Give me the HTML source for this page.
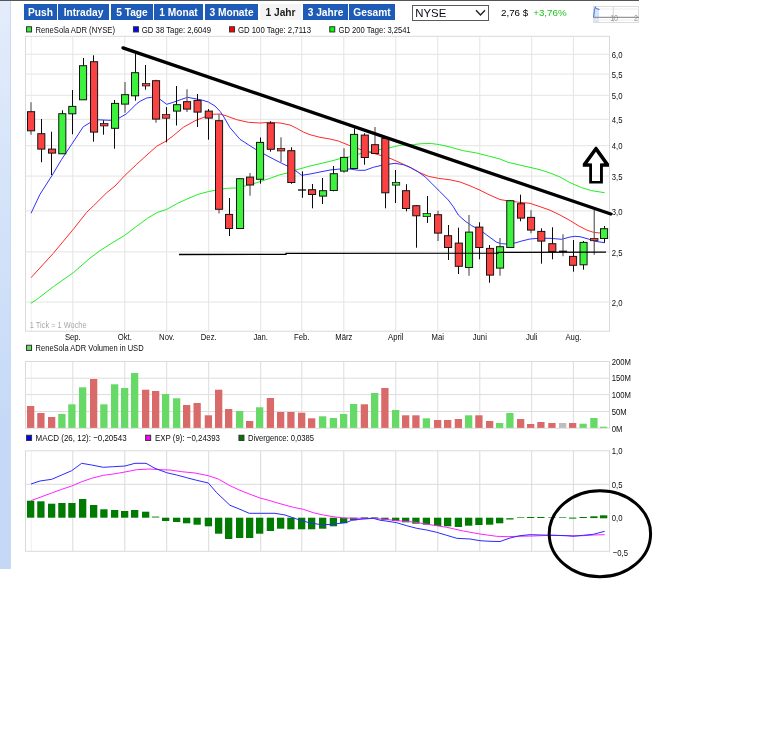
<!DOCTYPE html>
<html lang="de">
<head>
<meta charset="utf-8">
<title>ReneSola ADR (NYSE) – Chart 1 Jahr</title>
<style>
html,body{margin:0;padding:0;background:#fff;}
body{width:768px;height:734px;position:relative;overflow:hidden;font-family:"Liberation Sans",sans-serif;}
.topline{position:absolute;left:0;top:0;width:639px;height:1px;background:#565656;}
.strip{position:absolute;left:0;top:1px;width:10px;height:568px;border-right:1px solid #c6daf7;background:linear-gradient(#e4ecfb 0%,#d8e5f9 26%,#cedff8 52%,#c5d9f6 75%,#c4d8f6 100%);}
.tabs{position:absolute;left:0;top:4px;height:16px;width:400px;}
.tab{position:absolute;top:0;height:16px;line-height:17px;background:#1d5bb6;color:#fff;font-weight:bold;font-size:10.2px;text-align:center;text-decoration:none;white-space:nowrap;}
.tab.active{background:#f4f4f4;color:#1c1c1c;}
.select{position:absolute;left:412px;top:5px;width:75px;height:14px;border:1px solid #5a5a5a;background:#fff;font-size:11.4px;line-height:14px;color:#0a0a14;}
.select span{position:absolute;left:2.3px;top:0;}
.select svg{position:absolute;right:2px;top:3px;}
.quote{position:absolute;left:501px;top:6.9px;font-size:9.8px;line-height:12px;color:#000;white-space:nowrap;}
.quote .chg{color:#1cc41c;margin-left:2.2px;}
.thumb{position:absolute;left:593px;top:6px;}
.chart{position:absolute;left:0;top:0;}
</style>
</head>
<body>
<div class="topline"></div>
<div class="strip"></div>
<nav class="tabs">
<a class="tab" style="left:24px;width:33px">Push</a>
<a class="tab" style="left:58px;width:51px">Intraday</a>
<a class="tab" style="left:111px;width:42px">5 Tage</a>
<a class="tab" style="left:154px;width:49px">1 Monat</a>
<a class="tab" style="left:205px;width:53px">3 Monate</a>
<a class="tab active" style="left:260px;width:41px">1 Jahr</a>
<a class="tab" style="left:303px;width:45px">3 Jahre</a>
<a class="tab" style="left:349px;width:46px">Gesamt</a>
</nav>
<div class="select"><span>NYSE</span><svg width="11" height="8" viewBox="0 0 11 8"><path d="M1 1.2 L5.5 6 L10 1.2" fill="none" stroke="#222" stroke-width="1.4"/></svg></div>
<div class="quote"><span class="last">2,76 $</span> <span class="chg">+3,76%</span></div>
<svg class="thumb" width="46" height="17" viewBox="0 0 46 17">
<rect x="0.5" y="0.5" width="45" height="16" fill="#fff" stroke="#dcdcdc"/>
<rect x="0.5" y="2" width="5.5" height="14" fill="#d5e3fa"/>
<line x1="0" y1="3" x2="46" y2="3" stroke="#ececec"/>
<line x1="0" y1="14" x2="46" y2="14" stroke="#ececec"/>
<line x1="20.3" y1="0" x2="20.3" y2="17" stroke="#d6d6d6"/>
<polyline points="0.6,11 1.4,4.5 2.3,0.8 3.2,2.6 6.5,3.5" fill="none" stroke="#2f62c6" stroke-width="0.9"/>
<text transform="translate(17.2 14.9) scale(0.81 1)" font-family="'Liberation Sans', sans-serif" font-size="8.7" fill="#9c9c9c">10</text>
<text transform="translate(41 14.9) scale(0.81 1)" font-family="'Liberation Sans', sans-serif" font-size="8.7" fill="#9c9c9c">2</text>
<line x1="0" y1="11.3" x2="46" y2="11.3" stroke="#7e7e7e"/>
</svg>
<svg class="chart" width="768" height="734" viewBox="0 0 768 734">
<g id="price-panel">
<g class="grid" fill="none" stroke="#e4e4e4" stroke-width="1">
<line x1="31.3" y1="36.3" x2="31.3" y2="331.2" stroke="#efefef"/>
<line x1="72.8" y1="36.3" x2="72.8" y2="331.2"/>
<line x1="124.8" y1="36.3" x2="124.8" y2="331.2"/>
<line x1="166.7" y1="36.3" x2="166.7" y2="331.2"/>
<line x1="208.7" y1="36.3" x2="208.7" y2="331.2"/>
<line x1="260.7" y1="36.3" x2="260.7" y2="331.2"/>
<line x1="301.8" y1="36.3" x2="301.8" y2="331.2"/>
<line x1="343.8" y1="36.3" x2="343.8" y2="331.2"/>
<line x1="395.8" y1="36.3" x2="395.8" y2="331.2"/>
<line x1="437.8" y1="36.3" x2="437.8" y2="331.2"/>
<line x1="479.8" y1="36.3" x2="479.8" y2="331.2"/>
<line x1="531.7" y1="36.3" x2="531.7" y2="331.2"/>
<line x1="573.4" y1="36.3" x2="573.4" y2="331.2"/>
<line x1="25.5" y1="54.3" x2="609.5" y2="54.3"/>
<line x1="25.5" y1="74.1" x2="609.5" y2="74.1"/>
<line x1="25.5" y1="95.3" x2="609.5" y2="95.3"/>
<line x1="25.5" y1="119.3" x2="609.5" y2="119.3"/>
<line x1="25.5" y1="145.7" x2="609.5" y2="145.7"/>
<line x1="25.5" y1="176.1" x2="609.5" y2="176.1"/>
<line x1="25.5" y1="210.9" x2="609.5" y2="210.9"/>
<line x1="25.5" y1="251.9" x2="609.5" y2="251.9"/>
<line x1="25.5" y1="302" x2="609.5" y2="302"/>
</g>
<rect x="25.5" y="36.3" width="584" height="294.9" fill="none" stroke="#dadada" stroke-width="1"/>
<g class="ma" fill="none" stroke-width="1" stroke-linejoin="round">
<polyline stroke="#22ee22" points="30.7,303.3 36,300 53.3,286.7 73.3,272.7 90,258.1 99.4,251.1 110.3,244.1 124.4,235.5 136.9,226.1 147.8,218 157.2,212.5 166.6,209.4 177.5,203.4 186.9,199.1 197.8,194.4 208.3,191.6 215,190.3 226.7,188.3 235.8,188 245,186 256.7,182.7 268,179 280,174.7 287.5,173 295.8,170 310,166 320,163.7 330,161.3 340,158.7 350,156.7 360,153.7 370,151.7 380,149.5 390,147.7 400,145.3 413.3,144.6 421.3,143.7 431.3,143.5 439.4,144.6 450,147 463.3,150.7 476.7,153 488.3,156 500,159 508,162.3 524,166 540,169.7 550,173 560,177 570,182.7 581.7,187.7 591.7,190.7 604.7,192.7"/>
<polyline stroke="#ff2a2a" points="31,277.7 53.3,253.3 73.3,229.3 86.7,212.3 93.3,206 106.7,192.7 115,186 125,175.3 136.7,164.3 148,154 156.7,146.3 166.7,140.7 173.3,135.7 183.3,127.3 195,120.8 205,116.8 213.3,114.3 220,114 226.7,116 236.7,119.7 248.3,122.3 260,123 270,122.3 280,123 290,125 296.7,128.3 303.3,132 310,134.7 320,137.3 330,139 338.3,141 345,143.7 350,145.7 360,149.3 370,152.3 380,155.2 390,158.3 400,162.7 410,167.3 420,172.7 428.3,176.3 438.3,178.3 450,179.8 460,182 470,185.8 480,190.2 490,195.2 500,199.5 508.3,201 516.7,202 530,203.3 540,206.7 550,210.2 560,215 570,220.5 578.3,225.7 586.7,230 593.3,232.3 600,233 604.5,233.3"/>
<polyline stroke="#3030ff" points="31,213.3 40,194.3 51.7,176 61.7,159.3 71.7,144.3 83.3,126.7 90,122.7 98.3,119.8 110,120.3 118.3,118.5 126.7,113.7 136.7,103.7 140,101.3 146.7,98 151.7,97.3 160,99.3 166.7,104.3 173.3,102.3 181.7,99.3 187.5,97.3 195,98.7 201.7,100 208.3,102 215,106 220,111.3 223.3,116 230,127.7 240,139.3 248.3,144.7 256.7,150 264,154 273.3,159 281.7,163.3 287.5,166 295.8,170.8 301.7,175.3 310,174 320,172 330,170 340,169 350,169 358.3,170.3 365,170.3 373.3,167.3 381.7,165.3 388.3,164.3 395,163.3 403.3,164.7 410,167.3 418.3,172 425,176.7 431.7,183.3 440,191.7 448.3,200 453.3,206.7 458.3,215 465,221 471.7,225.7 480,230 486.7,235 496.7,242.3 501.7,243.7 506.7,244 515,243 521.7,241 530,239 538.3,238.3 550,238.3 561.7,239.3 570,237 575,236.3 580,236.7 588.3,239 595,241.3 604.7,242.7"/>
</g>
<g class="candles">
<line x1="31" y1="102.3" x2="31" y2="134.7" stroke="#6a6a6a" stroke-width="1.3"/>
<rect x="27.5" y="111.7" width="7.1" height="19.1" fill="#fa4242" stroke="#141414" stroke-width="1"/>
<line x1="41.5" y1="119" x2="41.5" y2="162.3" stroke="#0a0a0a" stroke-width="1"/>
<rect x="37.75" y="133.7" width="7.1" height="15.4" fill="#fa4242" stroke="#141414" stroke-width="1"/>
<line x1="51.5" y1="131.7" x2="51.5" y2="175" stroke="#0a0a0a" stroke-width="1"/>
<rect x="48.5" y="149.1" width="7.1" height="4" fill="#fa4242" stroke="#141414" stroke-width="1"/>
<line x1="62.5" y1="110.3" x2="62.5" y2="154" stroke="#0a0a0a" stroke-width="1"/>
<rect x="58.75" y="113.7" width="7.1" height="40.1" fill="#3cf23c" stroke="#141414" stroke-width="1"/>
<line x1="72.5" y1="90" x2="72.5" y2="134.3" stroke="#0a0a0a" stroke-width="1"/>
<rect x="68.75" y="106.4" width="7.1" height="7.4" fill="#3cf23c" stroke="#141414" stroke-width="1"/>
<line x1="83.5" y1="58" x2="83.5" y2="100" stroke="#0a0a0a" stroke-width="1"/>
<rect x="79.5" y="65.7" width="7.1" height="34.1" fill="#3cf23c" stroke="#141414" stroke-width="1"/>
<line x1="93.5" y1="55.3" x2="93.5" y2="141.7" stroke="#0a0a0a" stroke-width="1"/>
<rect x="90.5" y="61.7" width="7.1" height="70.4" fill="#fa4242" stroke="#141414" stroke-width="1"/>
<line x1="103.5" y1="120.3" x2="103.5" y2="134.7" stroke="#0a0a0a" stroke-width="1"/>
<rect x="100.62" y="123.58" width="7.35" height="2.35" fill="#fa4242" stroke="#141414" stroke-width="0.75"/>
<line x1="114.5" y1="100" x2="114.5" y2="148.7" stroke="#0a0a0a" stroke-width="1"/>
<rect x="111.5" y="103.4" width="7.1" height="24.9" fill="#3cf23c" stroke="#141414" stroke-width="1"/>
<line x1="125" y1="82" x2="125" y2="112.7" stroke="#6a6a6a" stroke-width="1.3"/>
<rect x="121.5" y="94.7" width="7.1" height="9.4" fill="#3cf23c" stroke="#141414" stroke-width="1"/>
<line x1="135.5" y1="52.7" x2="135.5" y2="100.7" stroke="#0a0a0a" stroke-width="1"/>
<rect x="131.5" y="72.7" width="7.1" height="23.1" fill="#3cf23c" stroke="#141414" stroke-width="1"/>
<line x1="145.5" y1="65" x2="145.5" y2="89.7" stroke="#0a0a0a" stroke-width="1"/>
<rect x="142.38" y="83.58" width="7.35" height="2.35" fill="#fa4242" stroke="#141414" stroke-width="0.75"/>
<line x1="156" y1="79.7" x2="156" y2="122.7" stroke="#6a6a6a" stroke-width="1.3"/>
<rect x="152.5" y="80.7" width="7.1" height="38.4" fill="#fa4242" stroke="#141414" stroke-width="1"/>
<line x1="166.5" y1="107" x2="166.5" y2="142.3" stroke="#0a0a0a" stroke-width="1"/>
<rect x="162.38" y="114.58" width="7.35" height="3.65" fill="#fa4242" stroke="#141414" stroke-width="0.75"/>
<line x1="176.5" y1="86" x2="176.5" y2="125.5" stroke="#0a0a0a" stroke-width="1"/>
<rect x="173.5" y="104.7" width="7.1" height="6.4" fill="#3cf23c" stroke="#141414" stroke-width="1"/>
<line x1="187" y1="89.3" x2="187" y2="112" stroke="#6a6a6a" stroke-width="1.3"/>
<rect x="183.5" y="101.7" width="7.1" height="7.4" fill="#fa4242" stroke="#141414" stroke-width="1"/>
<line x1="197.5" y1="94" x2="197.5" y2="127" stroke="#0a0a0a" stroke-width="1"/>
<rect x="194" y="100.4" width="7.1" height="11.7" fill="#fa4242" stroke="#141414" stroke-width="1"/>
<line x1="208.5" y1="109" x2="208.5" y2="139.7" stroke="#0a0a0a" stroke-width="1"/>
<rect x="205.25" y="111.1" width="7.1" height="7" fill="#fa4242" stroke="#141414" stroke-width="1"/>
<line x1="219" y1="114.3" x2="219" y2="213.5" stroke="#6a6a6a" stroke-width="1.3"/>
<rect x="215.5" y="120.7" width="7.1" height="88.6" fill="#fa4242" stroke="#141414" stroke-width="1"/>
<line x1="229.5" y1="198" x2="229.5" y2="236" stroke="#0a0a0a" stroke-width="1"/>
<rect x="225.5" y="214.4" width="7.1" height="14.1" fill="#fa4242" stroke="#141414" stroke-width="1"/>
<line x1="239.5" y1="178.3" x2="239.5" y2="228.7" stroke="#0a0a0a" stroke-width="1"/>
<rect x="236.5" y="178.7" width="7.1" height="49.8" fill="#3cf23c" stroke="#141414" stroke-width="1"/>
<line x1="250" y1="173" x2="250" y2="195.7" stroke="#6a6a6a" stroke-width="1.3"/>
<rect x="246.5" y="177.1" width="7.1" height="7.9" fill="#fa4242" stroke="#141414" stroke-width="1"/>
<line x1="260.5" y1="137.5" x2="260.5" y2="183.7" stroke="#0a0a0a" stroke-width="1"/>
<rect x="256.5" y="142.4" width="7.1" height="36.9" fill="#3cf23c" stroke="#141414" stroke-width="1"/>
<line x1="270.5" y1="121.3" x2="270.5" y2="151.7" stroke="#0a0a0a" stroke-width="1"/>
<rect x="267.25" y="123.1" width="7.1" height="26.2" fill="#fa4242" stroke="#141414" stroke-width="1"/>
<line x1="281" y1="137.3" x2="281" y2="162.3" stroke="#6a6a6a" stroke-width="1.3"/>
<rect x="277.38" y="148.58" width="7.35" height="2.35" fill="#fa4242" stroke="#141414" stroke-width="0.75"/>
<line x1="291.5" y1="147.3" x2="291.5" y2="183.8" stroke="#0a0a0a" stroke-width="1"/>
<rect x="287.75" y="150.7" width="7.1" height="31.8" fill="#fa4242" stroke="#141414" stroke-width="1"/>
<line x1="302.5" y1="171.3" x2="302.5" y2="197.7" stroke="#0a0a0a" stroke-width="1"/>
<line x1="298" y1="190" x2="306.1" y2="190" stroke="#0a0a0a" stroke-width="1.3"/>
<line x1="312.5" y1="184" x2="312.5" y2="208.3" stroke="#0a0a0a" stroke-width="1"/>
<rect x="308.5" y="189.7" width="7.1" height="4.8" fill="#fa4242" stroke="#141414" stroke-width="1"/>
<line x1="322.5" y1="178" x2="322.5" y2="204" stroke="#0a0a0a" stroke-width="1"/>
<rect x="319.5" y="190.7" width="7.1" height="5.4" fill="#3cf23c" stroke="#141414" stroke-width="1"/>
<line x1="333.5" y1="166" x2="333.5" y2="191.3" stroke="#0a0a0a" stroke-width="1"/>
<rect x="330.25" y="173.7" width="7.1" height="16.8" fill="#3cf23c" stroke="#141414" stroke-width="1"/>
<line x1="344" y1="148.3" x2="344" y2="172.7" stroke="#6a6a6a" stroke-width="1.3"/>
<rect x="340.5" y="157.4" width="7.1" height="13.7" fill="#3cf23c" stroke="#141414" stroke-width="1"/>
<line x1="354.5" y1="128.3" x2="354.5" y2="168.7" stroke="#0a0a0a" stroke-width="1"/>
<rect x="350.5" y="134.4" width="7.1" height="34.1" fill="#3cf23c" stroke="#141414" stroke-width="1"/>
<line x1="364.5" y1="133.3" x2="364.5" y2="164.7" stroke="#0a0a0a" stroke-width="1"/>
<rect x="361.25" y="135.1" width="7.1" height="22.4" fill="#fa4242" stroke="#141414" stroke-width="1"/>
<line x1="375" y1="127" x2="375" y2="153.7" stroke="#6a6a6a" stroke-width="1.3"/>
<rect x="371.5" y="144.7" width="7.1" height="8.8" fill="#fa4242" stroke="#141414" stroke-width="1"/>
<line x1="385.5" y1="138" x2="385.5" y2="208.3" stroke="#0a0a0a" stroke-width="1"/>
<rect x="381.75" y="138.4" width="7.1" height="54.4" fill="#fa4242" stroke="#141414" stroke-width="1"/>
<line x1="395.5" y1="170" x2="395.5" y2="203" stroke="#0a0a0a" stroke-width="1"/>
<rect x="392.38" y="182.47" width="7.35" height="2.65" fill="#3cf23c" stroke="#141414" stroke-width="0.75"/>
<line x1="406.5" y1="184.2" x2="406.5" y2="211.3" stroke="#0a0a0a" stroke-width="1"/>
<rect x="402.5" y="190.7" width="7.1" height="17.8" fill="#fa4242" stroke="#141414" stroke-width="1"/>
<line x1="416.5" y1="205.3" x2="416.5" y2="247.7" stroke="#0a0a0a" stroke-width="1"/>
<rect x="412.75" y="205.7" width="7.1" height="10.1" fill="#fa4242" stroke="#141414" stroke-width="1"/>
<line x1="427.5" y1="196" x2="427.5" y2="223" stroke="#0a0a0a" stroke-width="1"/>
<rect x="423.12" y="213.58" width="7.35" height="3.05" fill="#3cf23c" stroke="#141414" stroke-width="0.75"/>
<line x1="438" y1="210.7" x2="438" y2="241" stroke="#6a6a6a" stroke-width="1.3"/>
<rect x="434.5" y="214.7" width="7.1" height="18.4" fill="#fa4242" stroke="#141414" stroke-width="1"/>
<line x1="448.5" y1="225" x2="448.5" y2="260" stroke="#0a0a0a" stroke-width="1"/>
<rect x="444.5" y="235.7" width="7.1" height="11.8" fill="#fa4242" stroke="#141414" stroke-width="1"/>
<line x1="458.5" y1="227.7" x2="458.5" y2="274" stroke="#0a0a0a" stroke-width="1"/>
<rect x="455.25" y="243.1" width="7.1" height="23.2" fill="#fa4242" stroke="#141414" stroke-width="1"/>
<line x1="469" y1="215" x2="469" y2="275.7" stroke="#6a6a6a" stroke-width="1.3"/>
<rect x="465.5" y="232.1" width="7.1" height="35.4" fill="#3cf23c" stroke="#141414" stroke-width="1"/>
<line x1="479.5" y1="222.3" x2="479.5" y2="259.3" stroke="#0a0a0a" stroke-width="1"/>
<rect x="475.75" y="227.1" width="7.1" height="20.4" fill="#fa4242" stroke="#141414" stroke-width="1"/>
<line x1="489.5" y1="245" x2="489.5" y2="282.7" stroke="#0a0a0a" stroke-width="1"/>
<rect x="486.5" y="248.4" width="7.1" height="26.7" fill="#fa4242" stroke="#141414" stroke-width="1"/>
<line x1="500" y1="238" x2="500" y2="275.7" stroke="#6a6a6a" stroke-width="1.3"/>
<rect x="496.5" y="246.7" width="7.1" height="21.4" fill="#3cf23c" stroke="#141414" stroke-width="1"/>
<line x1="510.5" y1="200.3" x2="510.5" y2="247.7" stroke="#0a0a0a" stroke-width="1"/>
<rect x="506.75" y="200.7" width="7.1" height="46.8" fill="#3cf23c" stroke="#141414" stroke-width="1"/>
<line x1="520.5" y1="194.7" x2="520.5" y2="221.3" stroke="#0a0a0a" stroke-width="1"/>
<rect x="517.5" y="203.7" width="7.1" height="14.4" fill="#fa4242" stroke="#141414" stroke-width="1"/>
<line x1="531" y1="210.3" x2="531" y2="233.3" stroke="#6a6a6a" stroke-width="1.3"/>
<rect x="527.5" y="217.4" width="7.1" height="12.7" fill="#fa4242" stroke="#141414" stroke-width="1"/>
<line x1="541.5" y1="228.3" x2="541.5" y2="263.7" stroke="#0a0a0a" stroke-width="1"/>
<rect x="537.75" y="231.4" width="7.1" height="9.7" fill="#fa4242" stroke="#141414" stroke-width="1"/>
<line x1="552.5" y1="227.3" x2="552.5" y2="259.3" stroke="#0a0a0a" stroke-width="1"/>
<rect x="548.75" y="243.7" width="7.1" height="7.8" fill="#fa4242" stroke="#141414" stroke-width="1"/>
<line x1="563" y1="234.3" x2="563" y2="256.3" stroke="#6a6a6a" stroke-width="1.3"/>
<line x1="559" y1="251.3" x2="567.1" y2="251.3" stroke="#0a0a0a" stroke-width="1.3"/>
<line x1="573.5" y1="240" x2="573.5" y2="271.7" stroke="#0a0a0a" stroke-width="1"/>
<rect x="569.5" y="256.4" width="7.1" height="8.9" fill="#fa4242" stroke="#141414" stroke-width="1"/>
<line x1="583.5" y1="241" x2="583.5" y2="269.7" stroke="#0a0a0a" stroke-width="1"/>
<rect x="580" y="242.4" width="7.1" height="22.4" fill="#3cf23c" stroke="#141414" stroke-width="1"/>
<line x1="594.25" y1="210" x2="594.25" y2="254.7" stroke="#6a6a6a" stroke-width="1.3"/>
<rect x="590.62" y="238.48" width="7.35" height="2.25" fill="#fa4242" stroke="#141414" stroke-width="0.75"/>
<line x1="604.5" y1="226" x2="604.5" y2="242.7" stroke="#0a0a0a" stroke-width="1"/>
<rect x="600.5" y="228.7" width="7.1" height="9.8" fill="#3cf23c" stroke="#141414" stroke-width="1"/>
</g>
<g class="axis" font-family="'Liberation Sans', sans-serif" font-size="9.5" fill="#0c0c0c">
<text transform="translate(611.8 57.9) scale(0.81 1)">6,0</text>
<text transform="translate(611.8 77.7) scale(0.81 1)">5,5</text>
<text transform="translate(611.8 98.9) scale(0.81 1)">5,0</text>
<text transform="translate(611.8 122.9) scale(0.81 1)">4,5</text>
<text transform="translate(611.8 149.3) scale(0.81 1)">4,0</text>
<text transform="translate(611.8 179.7) scale(0.81 1)">3,5</text>
<text transform="translate(611.8 214.5) scale(0.81 1)">3,0</text>
<text transform="translate(611.8 255.5) scale(0.81 1)">2,5</text>
<text transform="translate(611.8 305.6) scale(0.81 1)">2,0</text>
<text transform="translate(72.8 340.4) scale(0.81 1)" text-anchor="middle">Sep.</text>
<text transform="translate(124.8 340.4) scale(0.81 1)" text-anchor="middle">Okt.</text>
<text transform="translate(166.7 340.4) scale(0.81 1)" text-anchor="middle">Nov.</text>
<text transform="translate(208.7 340.4) scale(0.81 1)" text-anchor="middle">Dez.</text>
<text transform="translate(260.7 340.4) scale(0.81 1)" text-anchor="middle">Jan.</text>
<text transform="translate(301.8 340.4) scale(0.81 1)" text-anchor="middle">Feb.</text>
<text transform="translate(343.8 340.4) scale(0.81 1)" text-anchor="middle">März</text>
<text transform="translate(395.8 340.4) scale(0.81 1)" text-anchor="middle">April</text>
<text transform="translate(437.8 340.4) scale(0.81 1)" text-anchor="middle">Mai</text>
<text transform="translate(479.8 340.4) scale(0.81 1)" text-anchor="middle">Juni</text>
<text transform="translate(531.7 340.4) scale(0.81 1)" text-anchor="middle">Juli</text>
<text transform="translate(573.4 340.4) scale(0.81 1)" text-anchor="middle">Aug.</text>
<text transform="translate(29.8 327.8) scale(0.78 1)" fill="#a8a8a8">1 Tick = 1 Woche</text>
</g>
</g>
<g class="legend" font-family="'Liberation Sans', sans-serif" font-size="9.5" fill="#0c0c0c">
<rect x="26.55" y="26.75" width="5" height="5.2" fill="#33ee33" stroke="#333" stroke-width="1"/>
<text x="35.6" y="32.65" textLength="79.4" lengthAdjust="spacingAndGlyphs">ReneSola ADR (NYSE)</text>
<rect x="133.45" y="26.75" width="5" height="5.2" fill="#0000ff" stroke="#333" stroke-width="1"/>
<text x="141.8" y="32.65" textLength="69.2" lengthAdjust="spacingAndGlyphs">GD 38 Tage: 2,6049</text>
<rect x="229.55" y="26.75" width="5" height="5.2" fill="#ff0000" stroke="#333" stroke-width="1"/>
<text x="238" y="32.65" textLength="73" lengthAdjust="spacingAndGlyphs">GD 100 Tage: 2,7113</text>
<rect x="329.75" y="26.75" width="5" height="5.2" fill="#00ff00" stroke="#333" stroke-width="1"/>
<text x="338.6" y="32.65" textLength="72" lengthAdjust="spacingAndGlyphs">GD 200 Tage: 3,2541</text>
</g>
<g class="legend" font-family="'Liberation Sans', sans-serif" font-size="9.5" fill="#0c0c0c">
<rect x="26.55" y="345.25" width="5" height="5.2" fill="#66dd66" stroke="#333" stroke-width="1"/>
<text x="35.6" y="351.15" textLength="108" lengthAdjust="spacingAndGlyphs">ReneSola ADR Volumen in USD</text>
</g>
<g class="legend" font-family="'Liberation Sans', sans-serif" font-size="9.5" fill="#0c0c0c">
<rect x="26.55" y="435.25" width="5" height="5.2" fill="#0000ff" stroke="#333" stroke-width="1"/>
<text x="35.6" y="440.65" textLength="91" lengthAdjust="spacingAndGlyphs">MACD (26, 12): −0,20543</text>
<rect x="145.65" y="435.25" width="5" height="5.2" fill="#ff00ff" stroke="#333" stroke-width="1"/>
<text x="155" y="440.65" textLength="65" lengthAdjust="spacingAndGlyphs">EXP (9): −0,24393</text>
<rect x="238.95" y="435.25" width="5" height="5.2" fill="#007800" stroke="#333" stroke-width="1"/>
<text x="248" y="440.65" textLength="66" lengthAdjust="spacingAndGlyphs">Divergence: 0,0385</text>
</g>
<g id="volume-panel">
<g class="grid" fill="none" stroke="#dddddd" stroke-width="1">
<line x1="31.3" y1="361.5" x2="31.3" y2="428.2" stroke="#efefef"/>
<line x1="72.8" y1="361.5" x2="72.8" y2="428.2"/>
<line x1="124.8" y1="361.5" x2="124.8" y2="428.2"/>
<line x1="166.7" y1="361.5" x2="166.7" y2="428.2"/>
<line x1="208.7" y1="361.5" x2="208.7" y2="428.2"/>
<line x1="260.7" y1="361.5" x2="260.7" y2="428.2"/>
<line x1="301.8" y1="361.5" x2="301.8" y2="428.2"/>
<line x1="343.8" y1="361.5" x2="343.8" y2="428.2"/>
<line x1="395.8" y1="361.5" x2="395.8" y2="428.2"/>
<line x1="437.8" y1="361.5" x2="437.8" y2="428.2"/>
<line x1="479.8" y1="361.5" x2="479.8" y2="428.2"/>
<line x1="531.7" y1="361.5" x2="531.7" y2="428.2"/>
<line x1="573.4" y1="361.5" x2="573.4" y2="428.2"/>
<line x1="25.5" y1="378.2" x2="609.5" y2="378.2"/>
<line x1="25.5" y1="394.6" x2="609.5" y2="394.6"/>
<line x1="25.5" y1="411.5" x2="609.5" y2="411.5"/>
</g>
<rect x="25.5" y="361.5" width="584" height="66.7" fill="none" stroke="#dadada" stroke-width="1"/>
<g class="bars">
<rect x="27" y="406" width="7.3" height="21.9" fill="#d96a6a"/>
<rect x="37.25" y="413" width="7.3" height="14.9" fill="#d96a6a"/>
<rect x="48" y="417" width="7.3" height="10.9" fill="#d96a6a"/>
<rect x="58.25" y="414" width="7.3" height="13.9" fill="#66d966"/>
<rect x="68.25" y="404.3" width="7.3" height="23.6" fill="#66d966"/>
<rect x="79" y="387.3" width="7.3" height="40.6" fill="#66d966"/>
<rect x="90" y="379" width="7.3" height="48.9" fill="#d96a6a"/>
<rect x="100.25" y="404.3" width="7.3" height="23.6" fill="#66d966"/>
<rect x="111" y="384.3" width="7.3" height="43.6" fill="#66d966"/>
<rect x="121" y="388" width="7.3" height="39.9" fill="#66d966"/>
<rect x="131" y="373" width="7.3" height="54.9" fill="#66d966"/>
<rect x="142" y="389.7" width="7.3" height="38.2" fill="#d96a6a"/>
<rect x="152" y="391" width="7.3" height="36.9" fill="#d96a6a"/>
<rect x="162" y="394" width="7.3" height="33.9" fill="#66d966"/>
<rect x="173" y="398.3" width="7.3" height="29.6" fill="#66d966"/>
<rect x="183" y="405" width="7.3" height="22.9" fill="#d96a6a"/>
<rect x="193.5" y="403" width="7.3" height="24.9" fill="#d96a6a"/>
<rect x="204.75" y="415.3" width="7.3" height="12.6" fill="#d96a6a"/>
<rect x="215" y="389.7" width="7.3" height="38.2" fill="#d96a6a"/>
<rect x="225" y="409" width="7.3" height="18.9" fill="#d96a6a"/>
<rect x="236" y="411" width="7.3" height="16.9" fill="#66d966"/>
<rect x="246" y="421" width="7.3" height="6.9" fill="#d96a6a"/>
<rect x="256" y="407.3" width="7.3" height="20.6" fill="#66d966"/>
<rect x="266.75" y="398" width="7.3" height="29.9" fill="#d96a6a"/>
<rect x="277" y="412" width="7.3" height="15.9" fill="#d96a6a"/>
<rect x="287.25" y="412" width="7.3" height="15.9" fill="#d96a6a"/>
<rect x="298" y="412.7" width="7.3" height="15.2" fill="#d96a6a"/>
<rect x="308" y="418.3" width="7.3" height="9.6" fill="#d96a6a"/>
<rect x="319" y="416.3" width="7.3" height="11.6" fill="#66d966"/>
<rect x="329.75" y="418" width="7.3" height="9.9" fill="#66d966"/>
<rect x="340" y="414" width="7.3" height="13.9" fill="#66d966"/>
<rect x="350" y="404" width="7.3" height="23.9" fill="#66d966"/>
<rect x="360.75" y="404.3" width="7.3" height="23.6" fill="#d96a6a"/>
<rect x="371" y="393" width="7.3" height="34.9" fill="#66d966"/>
<rect x="381.25" y="388" width="7.3" height="39.9" fill="#d96a6a"/>
<rect x="392" y="410" width="7.3" height="17.9" fill="#66d966"/>
<rect x="402" y="415.3" width="7.3" height="12.6" fill="#d96a6a"/>
<rect x="412.25" y="415.3" width="7.3" height="12.6" fill="#d96a6a"/>
<rect x="422.75" y="418.3" width="7.3" height="9.6" fill="#66d966"/>
<rect x="434" y="420" width="7.3" height="7.9" fill="#d96a6a"/>
<rect x="444" y="420" width="7.3" height="7.9" fill="#d96a6a"/>
<rect x="454.75" y="419" width="7.3" height="8.9" fill="#d96a6a"/>
<rect x="465" y="415.3" width="7.3" height="12.6" fill="#66d966"/>
<rect x="475.25" y="415.3" width="7.3" height="12.6" fill="#d96a6a"/>
<rect x="486" y="421" width="7.3" height="6.9" fill="#d96a6a"/>
<rect x="496" y="423" width="7.3" height="4.9" fill="#66d966"/>
<rect x="506.25" y="413" width="7.3" height="14.9" fill="#66d966"/>
<rect x="517" y="419" width="7.3" height="8.9" fill="#d96a6a"/>
<rect x="527" y="424" width="7.3" height="3.9" fill="#d96a6a"/>
<rect x="537.25" y="422" width="7.3" height="5.9" fill="#d96a6a"/>
<rect x="548.25" y="423" width="7.3" height="4.9" fill="#d96a6a"/>
<rect x="559" y="423" width="7.3" height="4.9" fill="#bdbdbd"/>
<rect x="569" y="423" width="7.3" height="4.9" fill="#d96a6a"/>
<rect x="579.5" y="423.7" width="7.3" height="4.2" fill="#66d966"/>
<rect x="590.25" y="418" width="7.3" height="9.9" fill="#66d966"/>
<rect x="600" y="426.7" width="7.3" height="1.2" fill="#66d966"/>
</g>
<g class="axis" font-family="'Liberation Sans', sans-serif" font-size="9.5" fill="#0c0c0c">
<text transform="translate(611.8 364.7) scale(0.81 1)">200M</text>
<text transform="translate(611.8 381.4) scale(0.81 1)">150M</text>
<text transform="translate(611.8 398) scale(0.81 1)">100M</text>
<text transform="translate(611.8 414.8) scale(0.81 1)">50M</text>
<text transform="translate(611.8 431.6) scale(0.81 1)">0M</text>
</g></g>
<g id="macd-panel">
<g class="grid" fill="none" stroke="#dadada" stroke-width="1">
<line x1="31.3" y1="450.8" x2="31.3" y2="551.3" stroke="#efefef"/>
<line x1="72.8" y1="450.8" x2="72.8" y2="551.3"/>
<line x1="124.8" y1="450.8" x2="124.8" y2="551.3"/>
<line x1="166.7" y1="450.8" x2="166.7" y2="551.3"/>
<line x1="208.7" y1="450.8" x2="208.7" y2="551.3"/>
<line x1="260.7" y1="450.8" x2="260.7" y2="551.3"/>
<line x1="301.8" y1="450.8" x2="301.8" y2="551.3"/>
<line x1="343.8" y1="450.8" x2="343.8" y2="551.3"/>
<line x1="395.8" y1="450.8" x2="395.8" y2="551.3"/>
<line x1="437.8" y1="450.8" x2="437.8" y2="551.3"/>
<line x1="479.8" y1="450.8" x2="479.8" y2="551.3"/>
<line x1="531.7" y1="450.8" x2="531.7" y2="551.3"/>
<line x1="573.4" y1="450.8" x2="573.4" y2="551.3"/>
<line x1="25.5" y1="484.3" x2="609.5" y2="484.3"/>
</g>
<rect x="25.5" y="450.8" width="584" height="100.5" fill="none" stroke="#dadada" stroke-width="1"/>
<g class="hist" fill="#007a00">
<rect x="27" y="500.7" width="7.3" height="17"/>
<rect x="37.25" y="501.3" width="7.3" height="16.4"/>
<rect x="48" y="503.7" width="7.3" height="14"/>
<rect x="58.25" y="503" width="7.3" height="14.7"/>
<rect x="68.25" y="503" width="7.3" height="14.7"/>
<rect x="79" y="499" width="7.3" height="18.7"/>
<rect x="90" y="505" width="7.3" height="12.7"/>
<rect x="100.25" y="509.3" width="7.3" height="8.4"/>
<rect x="111" y="510" width="7.3" height="7.7"/>
<rect x="121" y="511" width="7.3" height="6.7"/>
<rect x="131" y="510" width="7.3" height="7.7"/>
<rect x="142" y="511.7" width="7.3" height="6"/>
<rect x="152" y="516.6" width="7.3" height="0.9"/>
<rect x="162" y="517.7" width="7.3" height="3.3"/>
<rect x="173" y="517.7" width="7.3" height="4.3"/>
<rect x="183" y="517.7" width="7.3" height="5.6"/>
<rect x="193.5" y="517.7" width="7.3" height="7"/>
<rect x="204.75" y="517.7" width="7.3" height="8.6"/>
<rect x="215" y="517.7" width="7.3" height="16"/>
<rect x="225" y="517.7" width="7.3" height="21.3"/>
<rect x="236" y="517.7" width="7.3" height="20.3"/>
<rect x="246" y="517.7" width="7.3" height="20.3"/>
<rect x="256" y="517.7" width="7.3" height="16"/>
<rect x="266.75" y="517.7" width="7.3" height="13.3"/>
<rect x="277" y="517.7" width="7.3" height="11"/>
<rect x="287.25" y="517.7" width="7.3" height="11.6"/>
<rect x="298" y="517.7" width="7.3" height="11.6"/>
<rect x="308" y="517.7" width="7.3" height="11.6"/>
<rect x="319" y="517.7" width="7.3" height="11"/>
<rect x="329.75" y="517.7" width="7.3" height="8.6"/>
<rect x="340" y="517.7" width="7.3" height="5.6"/>
<rect x="350" y="517.7" width="7.3" height="2.5"/>
<rect x="360.75" y="517.4" width="7.3" height="1.5"/>
<rect x="371" y="517.4" width="7.3" height="0.9"/>
<rect x="381.25" y="517.7" width="7.3" height="2.2"/>
<rect x="392" y="517.7" width="7.3" height="3.3"/>
<rect x="402" y="517.7" width="7.3" height="4.6"/>
<rect x="412.25" y="517.7" width="7.3" height="6"/>
<rect x="422.75" y="517.7" width="7.3" height="7"/>
<rect x="434" y="517.7" width="7.3" height="8.3"/>
<rect x="444" y="517.7" width="7.3" height="8.6"/>
<rect x="454.75" y="517.7" width="7.3" height="9.3"/>
<rect x="465" y="517.7" width="7.3" height="8"/>
<rect x="475.25" y="517.7" width="7.3" height="7.3"/>
<rect x="486" y="517.7" width="7.3" height="7"/>
<rect x="496" y="517.7" width="7.3" height="5.6"/>
<rect x="506.25" y="518.2" width="7.3" height="1.3"/>
<rect x="517" y="517.3" width="7.3" height="0.6"/>
<rect x="527" y="517" width="7.3" height="1"/>
<rect x="537.25" y="517" width="7.3" height="1"/>
<rect x="548.25" y="517.2" width="7.3" height="0.6"/>
<rect x="559" y="517.3" width="7.3" height="0.6"/>
<rect x="569" y="517.6" width="7.3" height="1"/>
<rect x="579.5" y="517" width="7.3" height="1"/>
<rect x="590.25" y="516.3" width="7.3" height="1.8"/>
<rect x="600" y="515.3" width="7.3" height="3"/>
</g>
<g fill="none" stroke-width="1" stroke-linejoin="round">
<polyline stroke="#ff22ff" points="31,500.7 40,497.3 51.7,493 61.7,489.3 71.7,486 81.7,481.7 91.7,478.3 103.3,475.3 113.3,474 125,472 136.7,469.7 150,469 160,469.7 170,470 181.7,471.7 195,473 208.3,475.7 218.3,479 230,485.7 240,490.3 250,494.3 260,498 270,500.7 280,503.7 293.3,507.3 303.3,509.3 313.3,512.7 323.3,515 333.3,516.7 343.3,518 360,518.3 373.3,518.3 388,519.6 396.7,520.7 413.3,522 430,524.7 446.7,527.3 463.3,531 480,534 496.7,536.3 508,536.7 516.7,536.3 533.3,536 550,535.3 566.7,535.7 583.3,535.7 593.3,535 604.7,534.7"/>
<polyline stroke="#2a2aff" points="31,484 40,481 51.7,479.3 61.7,475 71.7,470.7 81.7,463.3 91.7,465 103.3,467.3 113.3,466.7 125,466 135,463.3 146,463.3 155,468.3 166.7,472.7 176.7,475 186.7,477.7 196.7,480.3 208.3,483 216.7,492.7 230,505.3 240,509.3 249.2,513.3 260,513.3 275,513.3 285,515 296.7,519 310,523 321.7,524.7 333.3,524.3 346.7,522.3 351.7,520.3 360,519.3 373.3,518.3 380,520.2 388,521.3 396.7,522.7 406.7,525.7 416.7,528.3 426.7,530 436.7,532.3 446.7,535.3 456.7,538.3 470,539 480,540.7 490,541.3 500,541.5 510,538 520,535.7 530,534.7 541.7,535 555,535.3 566.7,535.7 573.3,536.3 583.3,535.3 593.3,534.3 604.7,531.3"/>
</g>
<g class="axis" font-family="'Liberation Sans', sans-serif" font-size="9.5" fill="#0c0c0c">
<text transform="translate(611.8 454.3) scale(0.81 1)">1,0</text>
<text transform="translate(611.8 488.2) scale(0.81 1)">0,5</text>
<text transform="translate(611.8 521.4) scale(0.81 1)">0,0</text>
<text transform="translate(612.8 555.6) scale(0.81 1)">−0,5</text>
</g></g>
<g id="annotations" fill="none" stroke="#000">
<line x1="123" y1="47.9" x2="610.8" y2="214" stroke-width="3.3" stroke-linecap="round"/>
<polyline points="179,254.5 286,254.3 286,253.4 498,253.2 498,252.4 606,252.2" stroke-width="1.3"/>
<path d="M595.2 146.8 L596.8 146.8 L609 163.8 L609 166.7 L602.9 166.7 L602.9 183.5 L589.2 183.5 L589.2 166.7 L582.8 166.7 L582.8 163.8 Z M595.9 151.7 L604.2 163.2 L600 163.6 L600 181 L592 181 L592 163.6 L587.6 163.2 Z" fill="#000" fill-rule="evenodd" stroke="none"/>
<ellipse cx="599.9" cy="533.8" rx="50.7" ry="43" stroke-width="3"/>
</g>
</svg>
</body>
</html>
